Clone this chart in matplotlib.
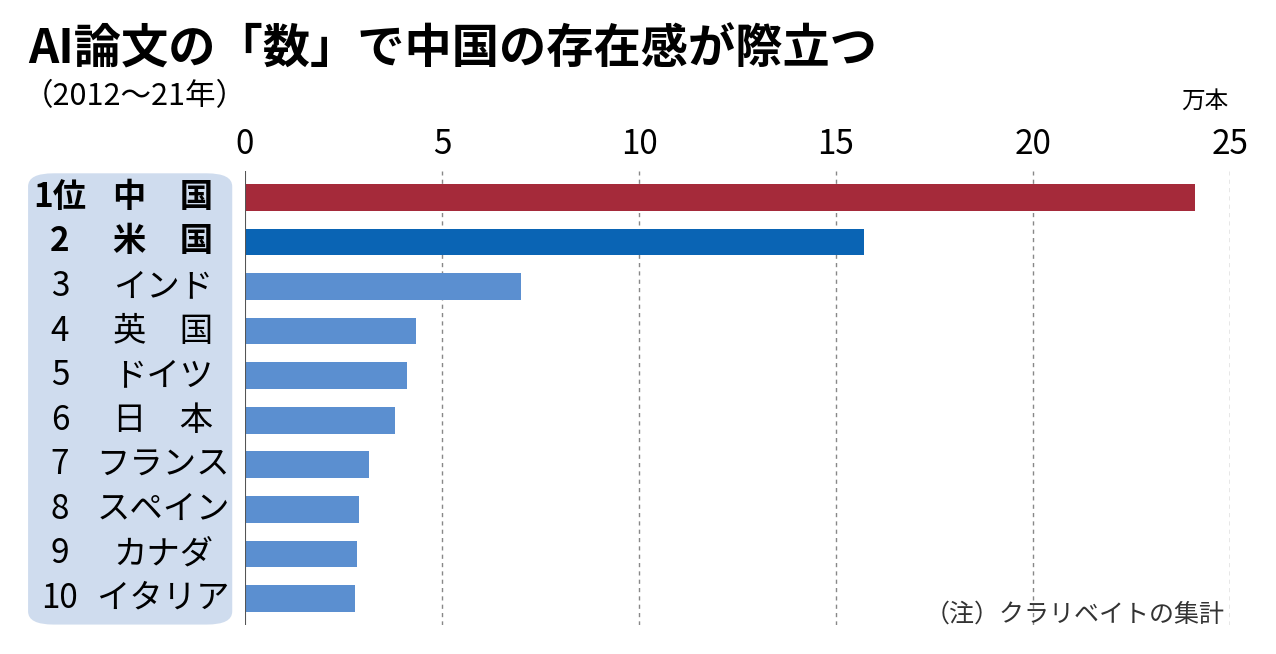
import matplotlib.pyplot as plt
from matplotlib.patches import FancyBboxPatch

plt.rcParams['font.family'] = ['Noto Sans CJK JP', 'DejaVu Sans']

ranks = ["1位", "2", "3", "4", "5", "6", "7", "8", "9", "10"]
countries = ["中　国", "米　国", "インド", "英　国", "ドイツ", "日　本", "フランス", "スペイン", "カナダ", "イタリア"]
values = [24.1, 15.7, 7.0, 4.35, 4.1, 3.8, 3.15, 2.9, 2.85, 2.8]
colors = ["#a52a3a", "#0a64b4"] + ["#5b8fd0"] * 8

fig = plt.figure(figsize=(12.76, 6.54), dpi=100)
ax = fig.add_axes([0.192, 0.044, 0.772, 0.695])

y = list(range(len(values)))
ax.barh(y, values, height=0.6, color=colors, zorder=3)
ax.set_ylim(9.6, -0.6)
ax.set_xlim(0, 25)
ax.set_xticks([0, 5, 10, 15, 20, 25])
ax.xaxis.tick_top()
ax.tick_params(axis='x', length=0, labelsize=24, pad=6)
ax.set_yticks([])
for s in ax.spines.values():
    s.set_visible(False)
for xv in [5, 10, 15, 20, 25]:
    ax.axvline(xv, color="#888888", ls=(0, (3, 3)), lw=1, zorder=1)
ax.axvline(0, color="#555555", lw=1.5, zorder=4)

# label panel
panel = FancyBboxPatch((0.022, 0.045), 0.16, 0.69, boxstyle="round,pad=0,rounding_size=0.02",
                       transform=fig.transFigure, facecolor="#cfdcee", edgecolor="none", zorder=0)
fig.patches.append(panel)

for i, (r, c) in enumerate(zip(ranks, countries)):
    yy = ax.transData.transform((0, i))[1] / fig.bbox.height
    w = 'bold' if i < 2 else 'normal'
    fig.text(0.047, yy, r, fontsize=24, ha='center', va='center', fontweight=w)
    fig.text(0.128, yy, c, fontsize=24, ha='center', va='center', fontweight=w)

fig.text(0.022, 0.925, "AI論文の「数」で中国の存在感が際立つ", fontsize=34, fontweight='bold', va='center')
fig.text(0.018, 0.852, "（2012～21年）", fontsize=22, va='center')
fig.text(0.963, 0.845, "万本", fontsize=17, ha='right', va='center')
fig.text(0.96, 0.06, "（注）クラリベイトの集計", fontsize=18, ha='right', va='center', color="#333333")

fig.savefig("out.png", dpi=100)
